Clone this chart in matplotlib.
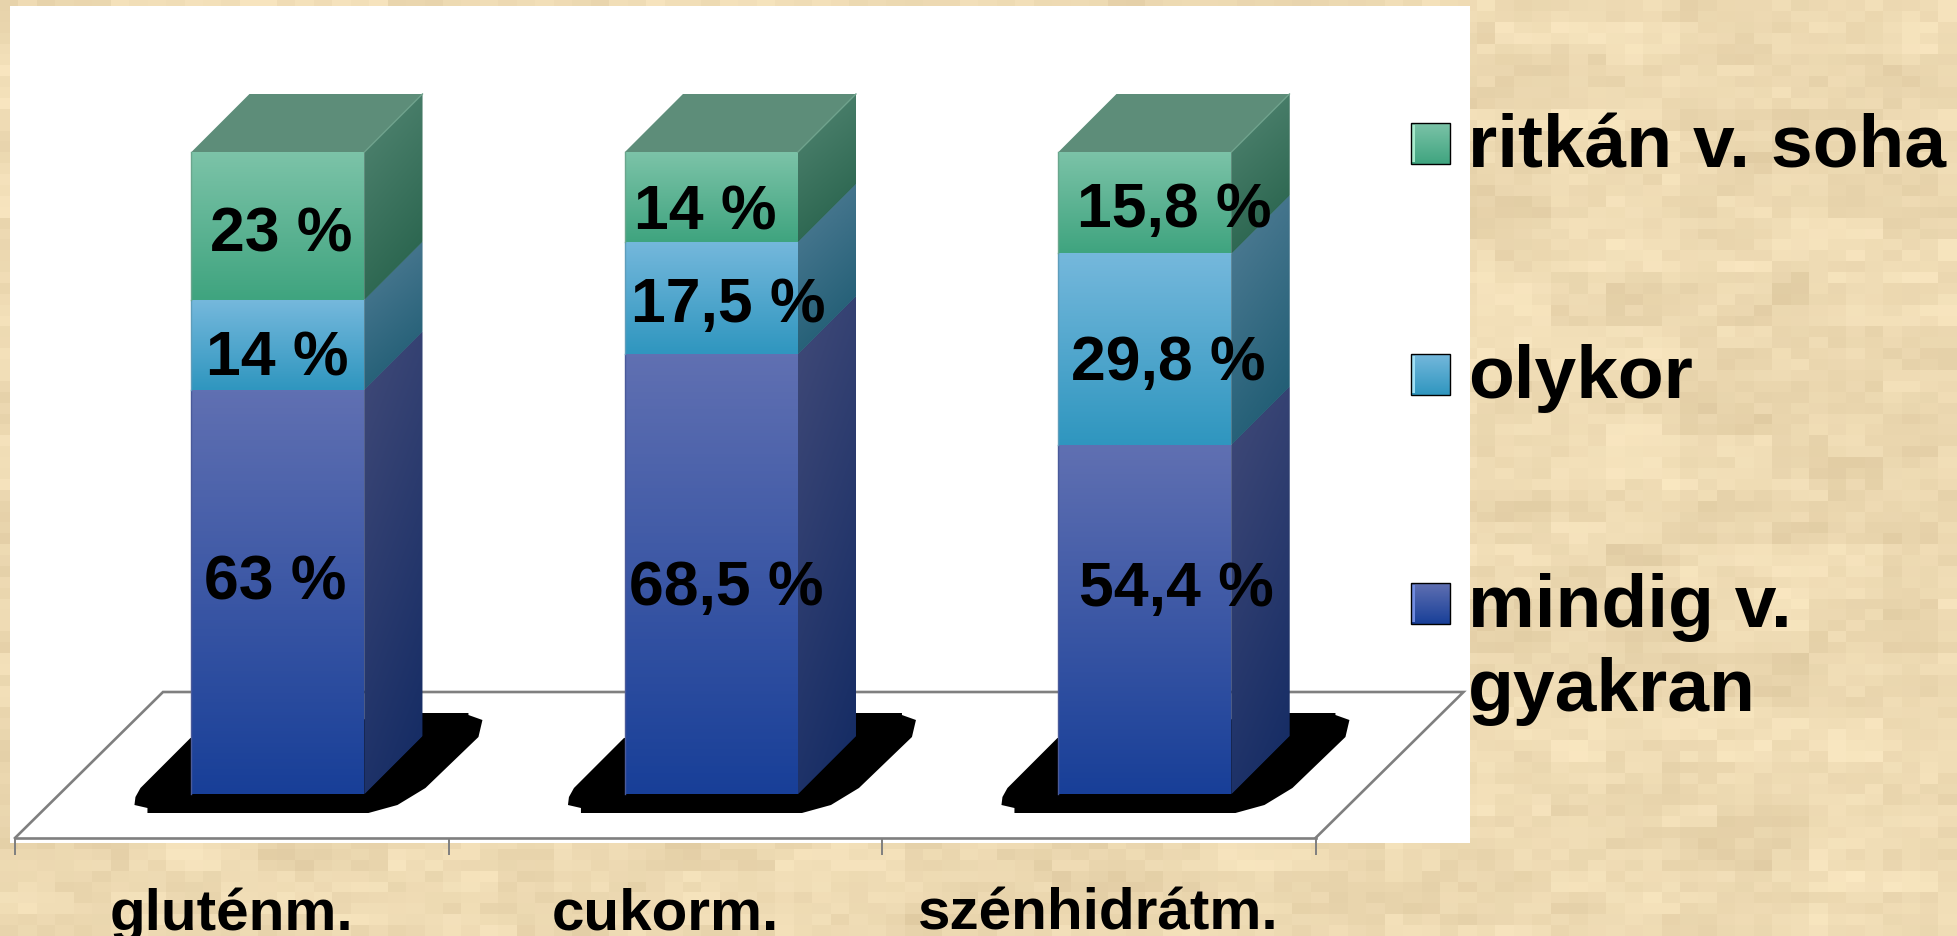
import matplotlib
matplotlib.use("Agg")
import matplotlib.pyplot as plt
import numpy as np
from matplotlib.colors import to_rgb
from matplotlib.patches import Polygon, Rectangle

plt.rcParams['font.family'] = ['Liberation Sans', 'DejaVu Sans']
plt.rcParams['font.weight'] = 'bold'

categories = ["gluténm.", "cukorm.", "szénhidrátm."]
series_names = ["mindig v.\ngyakran", "olykor", "ritkán v. soha"]
often = [63, 68.5, 54.4]
sometimes = [14, 17.5, 29.8]
rarely = [23, 14, 15.8]

W, H = 1957, 936
SLOT = 433.5    # px per category
UNIT = 6.42     # px per percent
BASE = 794      # py of the value 0
AX_LEFT, AX_BOTTOM = 15, 838

BAR_W = 173 / SLOT
BAR_OFF = 46.2 / SLOT
DEPTH_X = 58 / SLOT
DEPTH_Y = 58 / UNIT

# top / bottom of the front face, then the same for the side face
front_cols = [("#6070B2", "#183F98"), ("#75B8DC", "#2F96BF"), ("#7CC3A8", "#3FA47F")]
side_cols = [("#414A78", "#122A63"), ("#527E96", "#19586F"), ("#538673", "#235F48")]
top_col = "#5D8D79"
edge_cols = ["#4A5A9A", "#5E9DBB", "#6AA68D"]
bevel_cols = ["#6F8BE0", "#9FE0F5", "#A5EBCB"]

# label centres and baselines in picture pixels, one row per series
label_x = [[275, 726.5, 1176], [277, 728, 1168], [281, 705.5, 1174.5]]
label_y = [[599, 605, 606], [376, 322, 380], [252, 229, 227]]

legend_y = [583, 354, 123]
legend_text_y = [627, 398, 168]

# black floor shadow round a bar, px relative to the bar's front left foot
shadow_px = [(-51, -6), (-56, 3), (-57, 11), (-44, 14), (-44, 19), (177, 19), (206, 11),
             (234, -6), (287, -57), (291, -74), (277, -79), (277, -81), (231, -81), (-1, -56)]


def gradient(top, bottom, n=128):
    top, bottom = np.array(to_rgb(top)), np.array(to_rgb(bottom))
    t = np.linspace(0, 1, n)[:, None, None]
    return top[None, None, :] * (1 - t) + bottom[None, None, :] * t


def diagonal(top, bottom, n=128):
    top, bottom = np.array(to_rgb(top)), np.array(to_rgb(bottom))
    v, u = np.mgrid[0:1:n * 1j, 0:1:n * 1j]
    t = (0.75 * v + 0.25 * u)[:, :, None]
    return top * (1 - t) + bottom * t


def paper():
    # blocky parchment, a fixed hash of the tile index
    tw, th = 18.5, 11
    ny, nx = int(H / th) + 1, int(W / tw) + 1
    j, i = np.mgrid[0:ny, 0:nx]

    def noise(a, b):
        return (np.sin(a * 12.9898 + b * 78.233) * 43758.5453) % 1

    fine = noise(i, j)
    mid = noise(i // 3, j // 2 + 7)
    big = noise(i // 7 + 3, j // 5 + 11)
    shade = 0.3 * fine + 0.35 * mid + 0.35 * big
    dark, light = np.array(to_rgb("#DFCAA1")), np.array(to_rgb("#FBE9C3"))
    img = dark + (light - dark) * shade[:, :, None]
    return img


fig = plt.figure(figsize=(W / 100, H / 100), dpi=100)

# Background, white panel and legend live on a pixel axes
bg = fig.add_axes([0, 0, 1, 1])
bg.set_xlim(0, W)
bg.set_ylim(H, 0)
bg.axis('off')
bg.imshow(paper(), extent=(0, W, H, 0), aspect='auto', interpolation='nearest', zorder=0)
bg.add_patch(Rectangle((10, 6), 1460, 837, facecolor='white', edgecolor='none', zorder=1))

for k, name in enumerate(series_names):
    y = legend_y[k]
    swatch = Rectangle((1411, y), 39, 41, facecolor='none', edgecolor='black', linewidth=1, zorder=4)
    bg.add_patch(swatch)
    bg.imshow(gradient(*front_cols[k]), extent=(1411, 1450, y + 41, y), aspect='auto', zorder=2)
    bg.add_patch(Rectangle((1412, y + 2), 3, 37, facecolor=bevel_cols[k], edgecolor='none', zorder=3))
    bg.text(1468, legend_text_y[k], name.split("\n")[0], fontsize=54, color='black',
            ha='left', va='baseline', zorder=5)
    if "\n" in name:
        bg.text(1468, legend_text_y[k] + 84, name.split("\n")[1], fontsize=54, color='black',
                ha='left', va='baseline', zorder=5)
bg.set_xlim(0, W)
bg.set_ylim(H, 0)

# Chart axes: x in categories, y in percent
ax = fig.add_axes([AX_LEFT / W, (H - AX_BOTTOM) / H, 3 * SLOT / W, AX_BOTTOM / H])
ax.patch.set_alpha(0)
ax.set_xlim(-0.5, 2.5)
y_min = (BASE - AX_BOTTOM) / UNIT
y_max = BASE / UNIT
ax.set_ylim(y_min, y_max)
ax.autoscale(False)
for side in ['top', 'left', 'right']:
    ax.spines[side].set_visible(False)
ax.spines['bottom'].set_color('#7F7F7F')
ax.spines['bottom'].set_linewidth(1.9)
ax.yaxis.set_visible(False)
ax.set_xticks(range(len(categories)))
ax.set_xticklabels(categories, fontsize=42, color='black')
ax.set_xticks(np.arange(-0.5, 3), minor=True)
ax.tick_params(axis='x', which='major', length=0, pad=35.5)
ax.tick_params(axis='x', which='minor', length=12, width=1.4, color='#7F7F7F')

# Floor outline
floor_dx = 148 / SLOT
floor_back = (BASE - 692) / UNIT
floor_x = [-0.5, -0.5 + floor_dx, 2.5 + floor_dx, 2.5]
floor_y = [y_min, floor_back, floor_back, y_min]
ax.plot(floor_x, floor_y, color='#7F7F7F', linewidth=1.9, clip_on=False, zorder=1, solid_joinstyle='miter')

x = np.arange(len(categories)) + BAR_OFF
stacks = [often, sometimes, rarely]
bottoms = np.zeros(len(categories))

for i, x0 in enumerate(x):
    left = x0 - BAR_W / 2
    pts = [(left + px / SLOT, -py / UNIT) for px, py in shadow_px]
    ax.add_patch(Polygon(pts, closed=True, facecolor='black', edgecolor='none', zorder=2, clip_on=False))

for s, values in enumerate(stacks):
    bars = ax.bar(x, values, width=BAR_W, bottom=bottoms, color=front_cols[s][1],
                  edgecolor='none', zorder=3)
    for i, bar in enumerate(bars):
        left, right = bar.get_x(), bar.get_x() + bar.get_width()
        y0, y1 = bar.get_y(), bar.get_y() + bar.get_height()
        im = ax.imshow(gradient(*front_cols[s]), extent=(left, right, y0, y1), aspect='auto', zorder=4)
        im.set_clip_path(bar)

        side = Polygon([(right, y0), (right + DEPTH_X, y0 + DEPTH_Y), (right + DEPTH_X, y1 + DEPTH_Y), (right, y1)],
                       closed=True, facecolor=side_cols[s][1], edgecolor='none', zorder=3)
        ax.add_patch(side)
        im = ax.imshow(diagonal(*side_cols[s]), extent=(right, right + DEPTH_X, y0, y1 + DEPTH_Y),
                       aspect='auto', zorder=4)
        im.set_clip_path(side)

        ax.plot([left, left], [y0, y1], color=edge_cols[s], linewidth=1, zorder=5)

        if s == len(stacks) - 1:
            ax.add_patch(Polygon([(left, y1), (left + DEPTH_X, y1 + DEPTH_Y), (right + DEPTH_X, y1 + DEPTH_Y), (right, y1)],
                                 closed=True, facecolor=top_col, edgecolor='none', zorder=5))
            ax.plot([right, right + DEPTH_X], [y1, y1 + DEPTH_Y], color='#6FA28C', linewidth=1, zorder=6)

        text = f"{values[i]:g} %".replace('.', ',')
        tx = (label_x[s][i] - AX_LEFT) / SLOT - 0.5
        ty = (BASE - label_y[s][i]) / UNIT
        ax.text(tx, ty, text, fontsize=45, color='black', ha='center', va='baseline', zorder=10)
    bottoms = bottoms + np.array(values)

ax.set_xlim(-0.5, 2.5)
ax.set_ylim(y_min, y_max)

fig.savefig("out.png", dpi=100)
